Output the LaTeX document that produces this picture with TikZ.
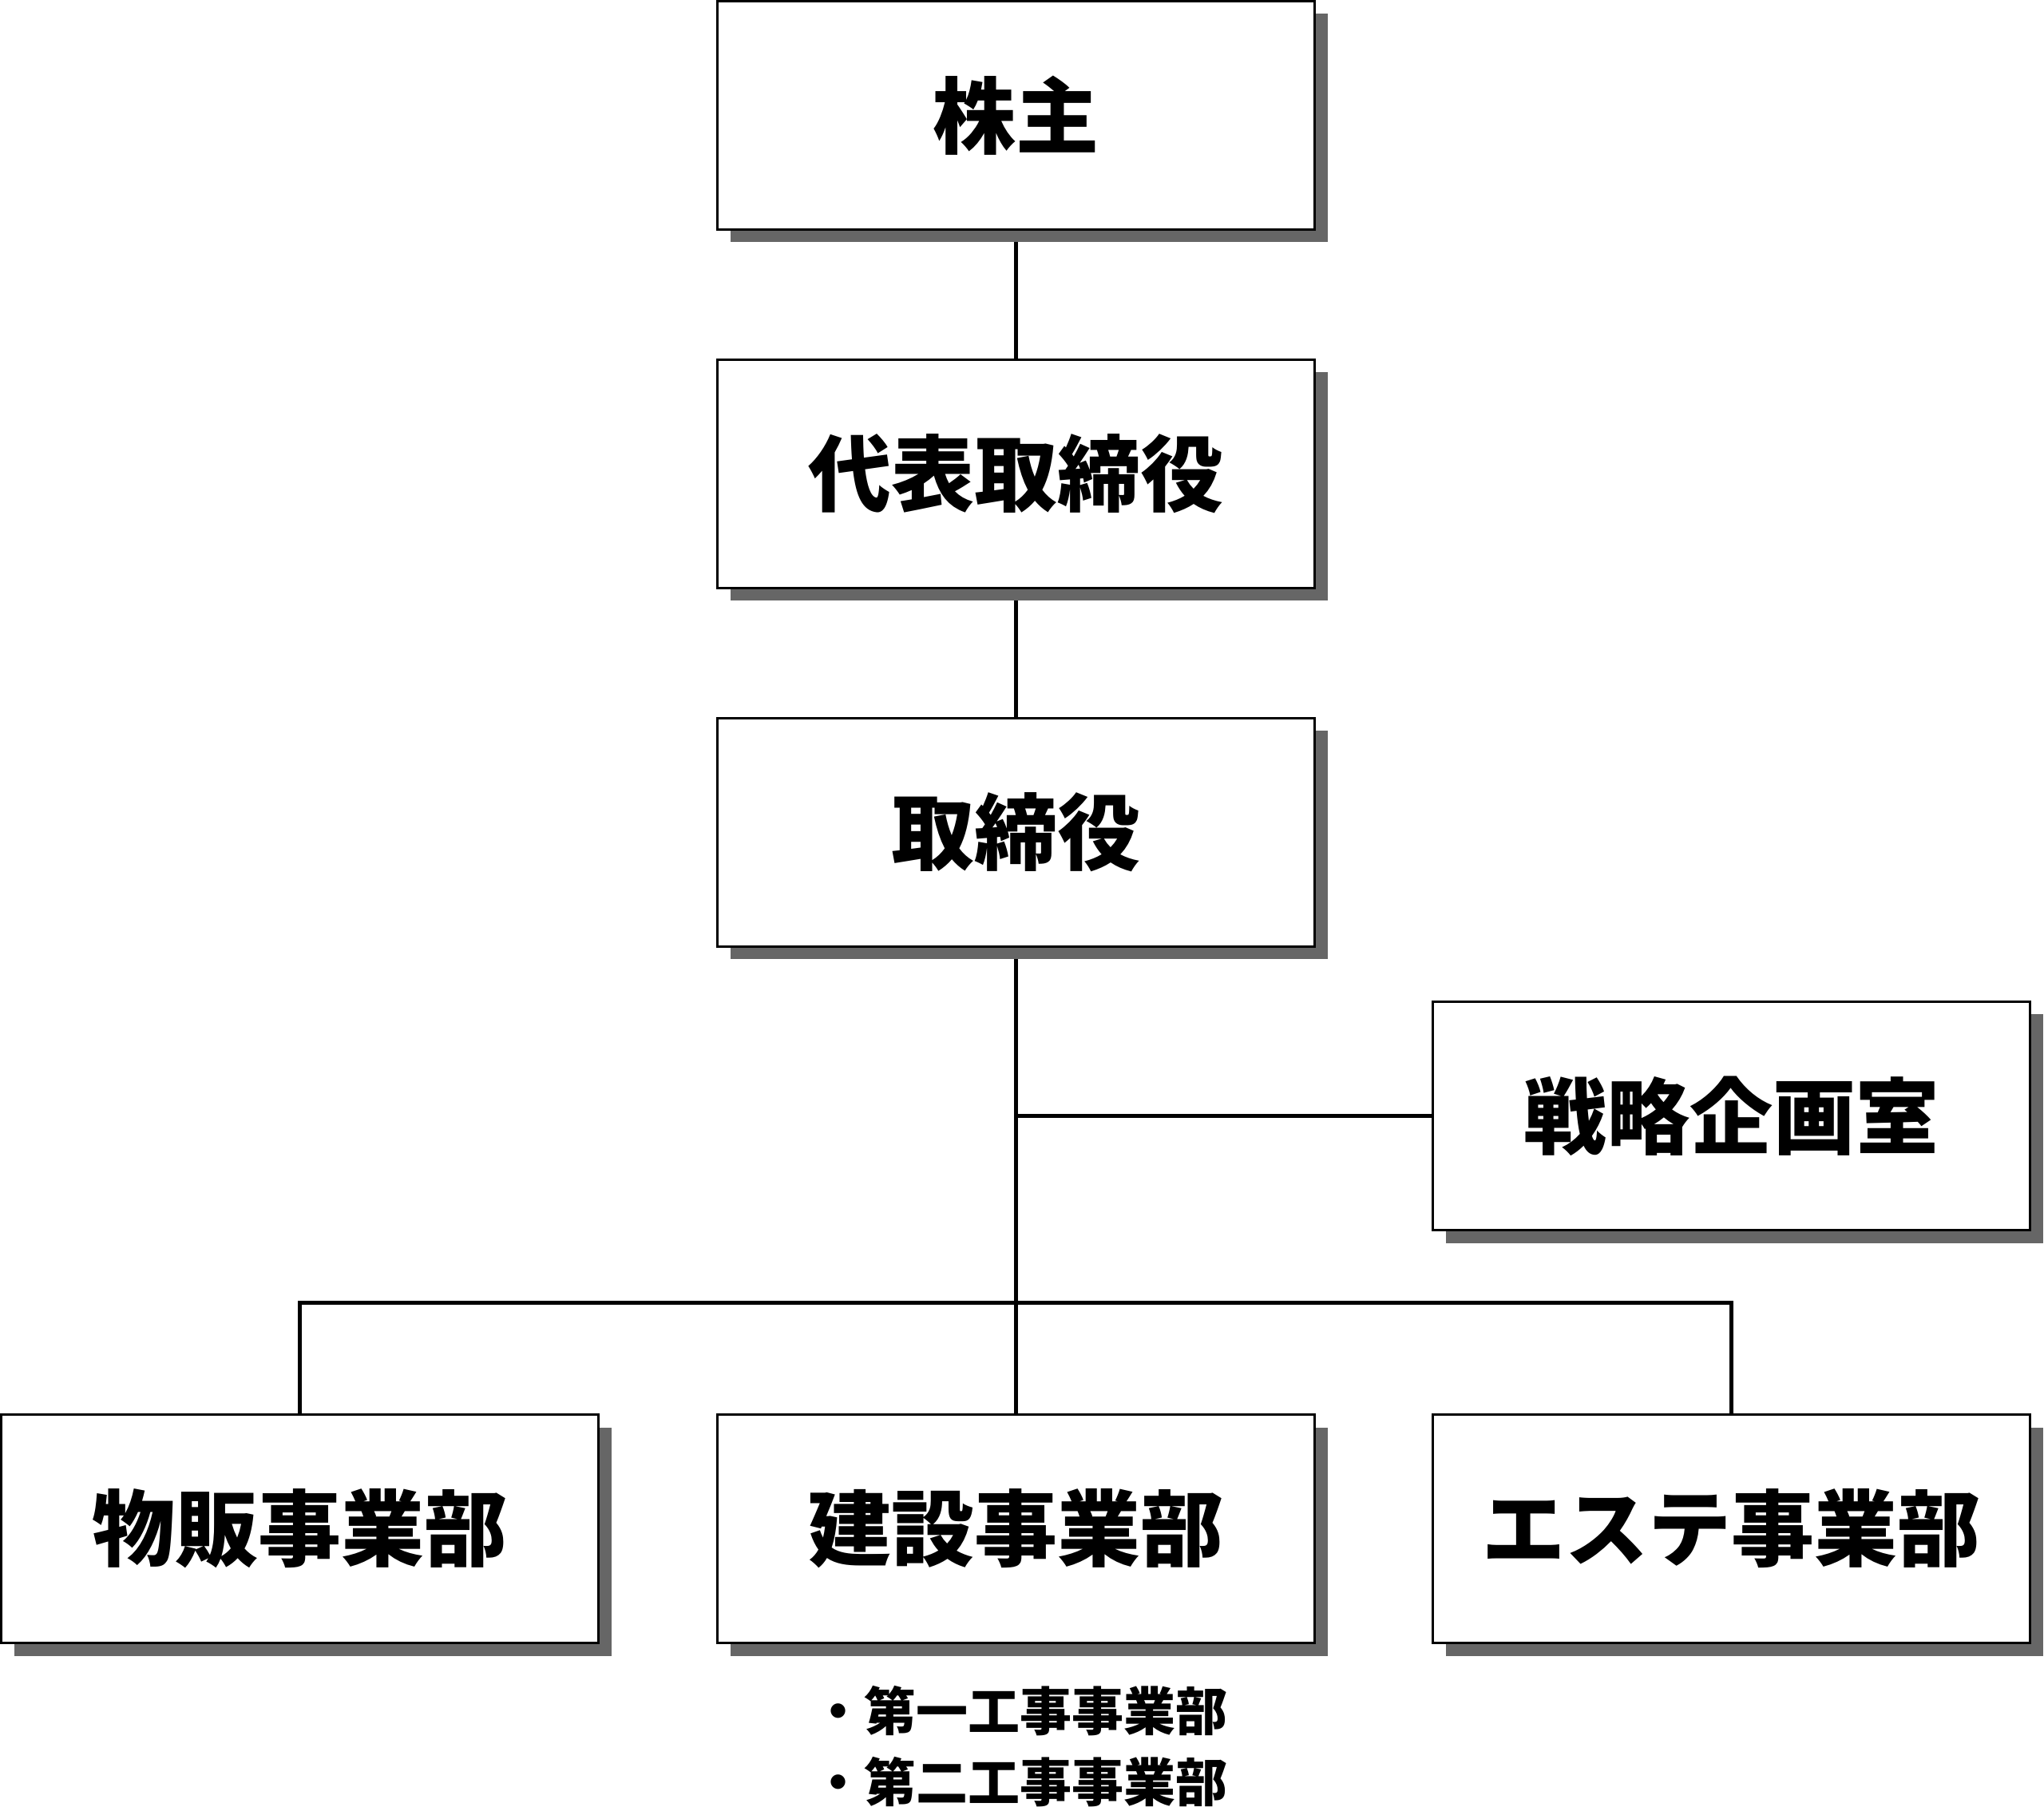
\documentclass[tikz,border=0pt]{standalone}
\usepackage{fontspec}
\newfontfamily\cjk{Noto Sans CJK JP}
\usetikzlibrary{positioning,shadows,backgrounds}

\begin{document}
\begin{tikzpicture}
        [unit/.style={draw, line width=0.03cm, fill=white, minimum width=7.48cm, minimum height=2.86cm,
            inner sep=0pt, font=\cjk\bfseries\fontsize{29.6}{36}\selectfont,
            drop shadow={shadow xshift=0.16cm, shadow yshift=-0.16cm, fill=black!60, opacity=1}},
          link/.style={line width=0.05cm},
          sub/.style={align=left, inner sep=0pt, font=\cjk\bfseries\fontsize{18.5}{25.2}\selectfont},
          node distance=1.6cm]
        \useasboundingbox (0,0) rectangle (25.6,-22.73);
        \node[unit] (kabunushi) at (12.725,-1.445) {株主};
        \node[unit,below=of kabunushi] (daihyo) {代表取締役};
        \node[unit,below=of daihyo] (torishimari) {取締役};
        \node[unit] (kensetsu) at (12.725,-19.145) {建設事業部};
        \node[unit,left=1.46cm of kensetsu] (buppan) {物販事業部};
        \node[unit,right=1.45cm of kensetsu] (esute) {エステ事業部};
        \node[unit,above=2.28cm of esute] (senryaku) {戦略企画室};
        \node[sub,below=0.52cm of kensetsu,xshift=0.05cm] (kensetsu-sub) {・第一工事事業部\\・第二工事事業部};
        \coordinate (bus) at (12.725,-16.31);
        \begin{scope}[on background layer]
          \draw[link] (kabunushi) -- (daihyo);
          \draw[link] (daihyo) -- (torishimari);
          \draw[link] (torishimari) -- (kensetsu);
          \draw[link] (senryaku.west) -- (senryaku.west -| torishimari.south);
          \draw[link] (buppan.north) |- (bus) -| (esute.north);
        \end{scope}
      \end{tikzpicture}
\end{document}
